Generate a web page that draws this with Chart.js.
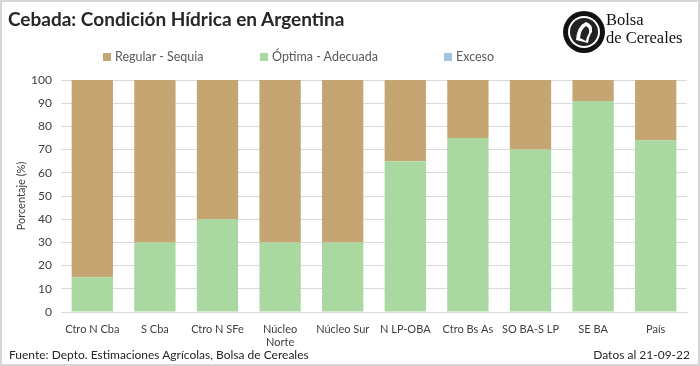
<!DOCTYPE html>
<html lang="es">
<head>
<meta charset="UTF-8">
<title>Cebada: Condición Hídrica en Argentina</title>
<script src="https://cdn.jsdelivr.net/npm/chart.js"></script>
<style>
    html, body { margin: 0; padding: 0; background: #fff; }
    #wrap {
        position: relative;
        width: 700px;
        height: 366px;
        box-sizing: border-box;
        border: 2px solid #d6d6d6;
        font-family: Lato, "Open Sans", sans-serif;
        overflow: hidden;
    }
    #chart { position: absolute; left: -2px; top: -2px; }
    .title {
        position: absolute; left: 6px; top: 5px;
        font-size: 19px; font-weight: bold; color: #262626;
    }
    .legend {
        position: absolute; top: 47px; font-size: 12.5px; color: #595959;
    }
    .legend span.box {
        display: inline-block; width: 8px; height: 8px; margin-right: 4px;
    }
    .logo { position: absolute; left: 560px; top: 8px; }
    .logo-text {
        position: absolute; left: 604px; top: 9px;
        font-family: "Liberation Serif", "DejaVu Serif", serif;
        font-size: 16.5px; line-height: 18px; color: #111;
    }
    .footer {
        position: absolute; top: 345px; font-size: 12px; color: #262626;
    }
</style>
</head>
<body>
<div id="wrap">
    <canvas id="chart" width="700" height="366"></canvas>
    <div class="title">Cebada: Condición Hídrica en Argentina</div>
    <div class="legend" style="left:101px"><span class="box" style="background:#c5a672"></span>Regular - Sequia</div>
    <div class="legend" style="left:258px"><span class="box" style="background:#a9d8a0"></span>Óptima - Adecuada</div>
    <div class="legend" style="left:442px"><span class="box" style="background:#9dc3e6"></span>Exceso</div>
    <svg class="logo" width="44" height="44" viewBox="0 0 44 44">
        <circle cx="22" cy="22" r="21" fill="#111"/>
        <circle cx="22" cy="22" r="16" fill="#fff"/>
        <circle cx="22" cy="22" r="14" fill="#222"/>
        <path d="M14 30 Q15 16 24 12 Q31 14 30 22 Q27 26 26 33 Z" fill="#fff"/>
        <path d="M18 28 Q19 19 24 16 Q28 18 27 23 Q25 26 24 31 Z" fill="#222"/>
    </svg>
    <div class="logo-text">Bolsa<br>de Cereales</div>
    <div class="footer" style="left:7px">Fuente: Depto. Estimaciones Agrícolas, Bolsa de Cereales</div>
    <div class="footer" style="right:8px">Datos al 21-09-22</div>
</div>
<script>
    // regiones
    var categories = ['Ctro N Cba', 'S Cba', 'Ctro N SFe', ['Núcleo', 'Norte'], 'Núcleo Sur',
        'N LP-OBA', 'Ctro Bs As', 'SO BA-S LP', 'SE BA', 'País'];
    var optimaAdecuada = [15, 30, 40, 30, 30, 65, 75, 70, 91, 74];
    var regularSequia = [85, 70, 60, 70, 70, 35, 25, 30, 9, 26];
    var exceso = [0, 0, 0, 0, 0, 0, 0, 0, 0, 0];
    var yTicks = [0, 10, 20, 30, 40, 50, 60, 70, 80, 90, 100];

    var tickFont = { family: 'Lato, "Open Sans", sans-serif', size: 12 };

    new Chart(document.getElementById('chart'), {
        type: 'bar',
        data: {
            labels: categories,
            datasets: [
                { label: 'Óptima - Adecuada', data: optimaAdecuada, backgroundColor: '#a9d8a0' },
                { label: 'Regular - Sequia', data: regularSequia, backgroundColor: '#c5a672' },
                { label: 'Exceso', data: exceso, backgroundColor: '#9dc3e6' }
            ]
        },
        options: {
            responsive: false,
            animation: false,
            layout: { padding: { top: 80, right: 13, left: 15, bottom: 0 } },
            datasets: { bar: { barPercentage: 0.66, categoryPercentage: 1 } },
            plugins: { legend: { display: false }, tooltip: { enabled: false } },
            scales: {
                x: {
                    stacked: true,
                    grid: { display: false },
                    border: { color: '#d9d9d9' },
                    ticks: { color: '#404040', font: { family: tickFont.family, size: 11 }, maxRotation: 0, autoSkip: false, padding: 3 },
                    afterFit: function (s) { s.height = 54; }
                },
                y: {
                    stacked: true,
                    min: 0,
                    max: 100,
                    afterBuildTicks: function (s) { s.ticks = yTicks.map(function (v) { return { value: v }; }); },
                    grid: { color: '#d9d9d9', drawTicks: false },
                    border: { display: false },
                    ticks: { color: '#404040', font: tickFont, padding: 9 },
                    title: { display: true, text: 'Porcentaje (%)', color: '#404040', font: { family: tickFont.family, size: 11 }, padding: 0 },
                    afterFit: function (s) { s.width = 46; }
                }
            }
        }
    });
</script>
</body>
</html>
